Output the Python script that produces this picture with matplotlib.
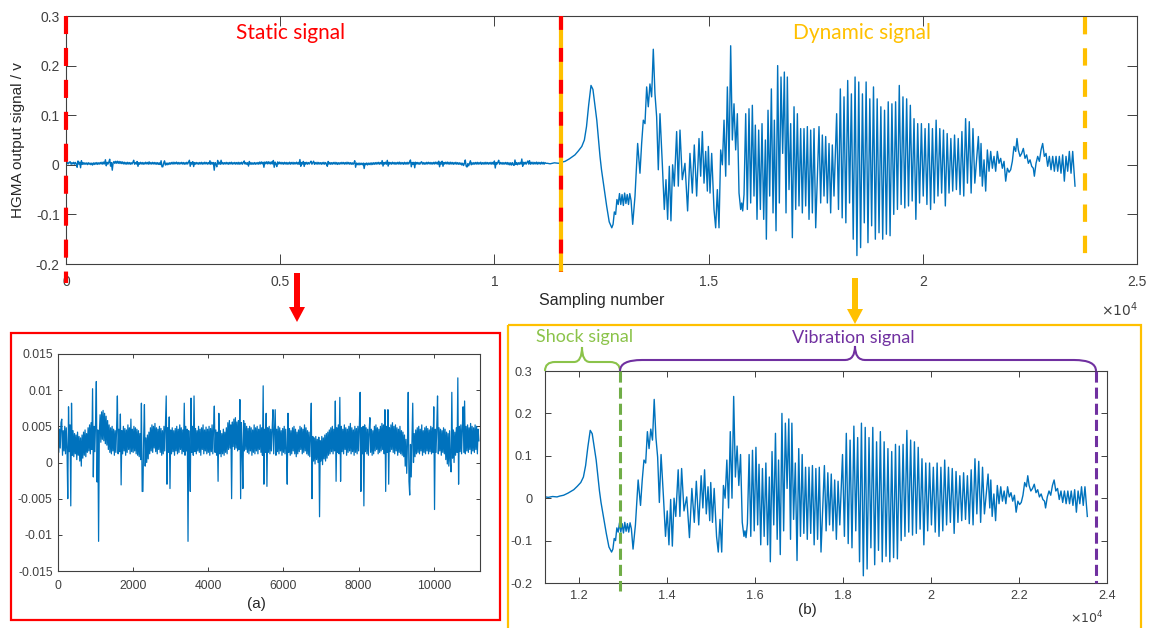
import numpy as np
import matplotlib
matplotlib.use("Agg")
import matplotlib.pyplot as plt
from matplotlib.path import Path
from matplotlib.patches import PathPatch, Rectangle, FancyArrow

plt.rcParams['lines.scale_dashes'] = False

# ---------------- data ----------------
# static signal, one value every 20 samples, in units of 1e-4 V
static_step = 20
static_e4 = [
    50, 14, 46, 20, 55, 60, 10, 44, 16, 50, 12, 48, 18, -50, 77, 15, 52, -60, 82, 10,
    44, 8, 40, 12, 38, 4, 42, 10, 36, 2, 34, -5, 38, 6, 42, 10, 45, 8, 40, 14,
    48, 16, 52, 12, 55, 18, 102, -20, 50, 15, 56, 112, -27, 45, -109, 40, 66, 28, 70, 32,
    72, 30, 68, 26, 64, 24, 58, 18, 52, 14, 48, 12, 50, 16, 46, 10, 44, 14, 48, 92,
    12, 46, 15, 67, -31, 44, 12, 50, 16, 47, 10, 45, 14, 52, 18, 48, 12, 60, 15, 46,
    14, 50, 16, 48, 12, 46, 10, 44, 8, 40, 4, 82, -40, -40, 36, 80, -5, 34, 0, 38,
    5, 42, 12, 48, 16, 52, 14, 50, 20, 54, 15, 48, 12, 46, 18, 50, 14, 47, 10, 44,
    12, 50, 16, 52, 92, -30, 48, 14, 63, -36, 45, 12, 48, 15, 44, 10, 47, 16, 50, 12,
    46, 14, 52, 18, 48, 12, 45, 15, 82, 10, 50, 16, 46, -109, 44, 12, -40, 89, 14, 50,
    10, 92, 15, 47, 12, 44, 16, 50, 14, 46, 10, 48, 18, 52, 12, 45, 16, 49, 12, 46,
    14, 50, 10, 47, 15, 52, 12, 48, 78, 14, 45, 10, 42, -26, 68, 12, 44, 8, 40, 12,
    46, 10, 42, 14, 48, 12, 55, 18, 58, 20, 52, -50, 56, 22, 60, 18, 62, 20, 56, 16,
    58, 18, 87, -50, 55, 20, -36, 58, 16, 54, 18, 50, 14, 47, 12, 50, 16, 48, 10, 45,
    14, 52, 12, 48, 16, 50, 12, 46, 18, 52, 14, 48, 10, 106, -30, 46, 14, 68, -33, 48,
    14, 50, 12, 46, 16, 48, 73, 12, 44, 73, 10, 46, 15, 50, 12, 48, 16, 44, 10, 47,
    14, 50, 12, 46, 16, -30, 68, 14, 47, 10, 44, 12, 48, 16, 50, 12, 46, 8, 42, 12,
    45, 15, 50, 18, 48, 12, 46, 14, 52, 16, 48, 12, 44, 10, 42, 8, 38, 82, -50, 36,
    2, 34, -2, 36, 4, 32, 0, 35, -75, 30, 2, 36, -3, 34, 5, 38, 2, 40, 6, 42,
    10, 45, 12, 48, 15, 50, 12, 46, 16, 85, -26, 48, 14, 52, 12, 90, -26, 50, 15, 46,
    12, 52, 18, 48, 10, 46, 14, 50, 16, 54, 12, 48, 15, 45, 10, 50, 14, 47, 12, 50,
    16, 52, 97, -40, 48, 12, 50, -60, 52, 15, 48, 12, 46, 10, 44, 62, 14, 46, 10, 44,
    12, 50, 16, 52, 18, 48, 12, 46, 14, 50, 16, 54, 18, 52, 12, 73, -40, 50, 14, 73,
    -30, 48, 15, 52, 18, 55, 14, 50, 12, 52, 16, 48, 10, 46, 14, 50, 12, 44, 10, 42,
    8, 38, -5, 32, -15, 28, 97, -26, -45, 25, -20, 30, 82, 0, 40, 8, 45, 12, 48, 14,
    50, 12, 46, 16, 52, 10, 44, 14, 48, 12, 50, 16, 47, 12, 45, 15, 50, 12, 48, 14,
    77, -65, 46, 14, 50, 92, 12, 48, 16, 46, 10, 44, 14, 48, 12, 46, 4, 42, -2, 40,
    -5, 44, 2, -13, 97, 6, 45, 0, 42, 10, 48, 14, 117, -30, 50, 15, 52, 12, 48, 77,
    14, 85, 12, 50, 16, 52, 14, 48, 18, 54, 12, 50, 16, 48, 14, 52, 18, 50, 12, 46,
    30,
]

# dynamic signal (sample number, volts)
shock_pts = [
    (11240, 0.003), (11300, 0.002), (11400, 0.004), (11500, 0.003), (11560, 0.005),
    (11650, 0.007), (11750, 0.012), (11880, 0.020), (11960, 0.028), (12040, 0.037),
    (12100, 0.050), (12150, 0.077), (12200, 0.120), (12255, 0.160), (12300, 0.152),
    (12340, 0.125), (12390, 0.090), (12430, 0.050), (12465, 0.017), (12500, -0.010),
    (12545, -0.037), (12620, -0.083), (12680, -0.115), (12740, -0.127), (12770, -0.120),
    (12800, -0.095), (12830, -0.100), (12860, -0.070), (12890, -0.080), (12920, -0.058),
    (12950, -0.080), (12980, -0.060), (13010, -0.082), (13040, -0.057), (13070, -0.078),
    (13100, -0.060), (13130, -0.080), (13160, -0.058), (13190, -0.072), (13228, -0.120),
    (13282, -0.063),
]
early_vib_pts = [
    (13344, 0.043), (13398, -0.017), (13437, 0.043), (13476, 0.090), (13515, 0.083),
    (13554, 0.157), (13592, 0.117), (13631, 0.163), (13670, 0.137), (13709, 0.233),
    (13748, 0.143), (13787, 0.097), (13826, -0.010), (13865, 0.103), (13919, 0.003),
    (13966, -0.090), (14005, -0.030), (14044, -0.110), (14083, -0.003), (14121, -0.113),
    (14160, 0.000), (14199, -0.043), (14254, 0.067), (14293, -0.043), (14332, 0.070),
    (14386, -0.030), (14448, 0.003), (14510, -0.093), (14565, 0.023), (14620, -0.057),
    (14666, 0.040), (14721, -0.063), (14776, 0.053), (14815, -0.023), (14854, 0.067),
    (14893, -0.037), (14932, 0.027), (14971, -0.053), (14994, 0.037), (15033, -0.057),
    (15072, 0.023), (15126, -0.090), (15165, -0.127), (15204, -0.050), (15243, -0.127),
    (15282, 0.030), (15321, 0.000), (15360, 0.090), (15399, -0.023), (15438, 0.157),
    (15477, 0.000), (15515, 0.240), (15554, 0.050), (15593, 0.123), (15632, 0.030),
    (15671, 0.103), (15710, -0.057), (15749, -0.090), (15772, -0.077), (15796, -0.093),
    (15827, -0.060), (15866, 0.103), (15904, -0.090), (15943, 0.113), (15982, -0.077),
    (16021, 0.120), (16060, -0.063), (16091, 0.080), (16130, -0.110), (16169, 0.070),
    (16208, -0.090), (16247, 0.083), (16286, -0.110), (16325, 0.050), (16348, -0.150),
    (16387, 0.110), (16426, -0.063), (16465, 0.153), (16504, -0.097), (16535, 0.090),
    (16574, -0.133), (16612, 0.200), (16651, -0.077), (16690, 0.177), (16729, 0.023),
    (16768, 0.187), (16807, -0.097), (16838, 0.177), (16877, -0.050), (16916, 0.083),
    (16955, -0.147), (16994, 0.117), (17033, -0.090), (17072, 0.103), (17110, -0.083),
    (17149, 0.073), (17188, -0.097), (17227, 0.073), (17266, -0.083), (17305, 0.077),
    (17344, -0.110), (17383, 0.070), (17422, -0.097), (17461, 0.073), (17500, -0.127),
    (17577, 0.077), (17616, -0.077), (17655, 0.060), (17694, -0.063), (17733, 0.057),
    (17772, -0.077), (17811, 0.043), (17849, -0.097), (17888, 0.040), (17927, -0.063),
]
burst_pts = [
    (17989, 0.103), (18032, -0.090), (18075, 0.153), (18118, -0.107), (18161, 0.137),
    (18204, -0.117), (18247, 0.170), (18290, -0.077), (18333, 0.143), (18376, -0.150),
    (18419, 0.177), (18462, -0.183), (18505, 0.167), (18548, -0.167), (18591, 0.143),
    (18634, -0.117), (18677, 0.167), (18720, -0.157), (18763, 0.133), (18806, -0.123),
    (18849, 0.157), (18892, -0.150), (18935, 0.133), (18978, -0.137), (19021, 0.117),
    (19064, -0.150), (19107, 0.110), (19150, -0.140), (19193, 0.127), (19236, -0.143),
    (19279, 0.123), (19322, -0.100), (19365, 0.127), (19408, -0.090), (19451, 0.160),
    (19494, -0.080), (19537, 0.137), (19580, -0.087), (19623, 0.133), (19666, -0.083),
    (19709, 0.120), (19752, -0.073), (19795, 0.093), (19838, -0.110), (19881, 0.083),
    (19924, -0.077), (19967, 0.083), (20010, -0.063), (20053, 0.073), (20096, -0.080),
    (20139, 0.083), (20182, -0.090), (20225, 0.073), (20268, -0.077), (20311, 0.090),
    (20354, -0.063), (20397, 0.073), (20440, -0.057), (20483, 0.070), (20526, -0.083),
    (20569, 0.063), (20612, -0.057), (20655, 0.053), (20698, -0.053), (20741, 0.060),
    (20784, -0.050), (20827, 0.053), (20870, -0.060), (20913, 0.067), (20956, -0.063),
    (20999, 0.093), (21042, -0.037), (21085, 0.087), (21128, -0.057), (21171, 0.073),
    (21214, -0.037),
]
tail_pts = [
    (21297, 0.057), (21336, -0.023), (21359, 0.043), (21390, -0.043), (21429, 0.010),
    (21468, -0.053), (21507, 0.030), (21546, -0.013), (21585, 0.027), (21624, -0.007),
    (21662, 0.017), (21701, -0.013), (21740, 0.027), (21779, 0.003), (21818, 0.013),
    (21857, -0.007), (21896, 0.007), (21935, -0.033), (21974, -0.007), (22013, -0.015),
    (22051, -0.010), (22090, 0.007), (22129, 0.037), (22168, 0.027), (22199, 0.053),
    (22230, 0.030), (22269, 0.017), (22308, 0.023), (22347, 0.033), (22386, 0.013),
    (22425, 0.020), (22464, 0.003), (22503, 0.010), (22542, -0.003), (22580, -0.007),
    (22604, -0.023), (22643, 0.003), (22682, 0.017), (22721, 0.007), (22760, 0.030),
    (22798, 0.043), (22837, 0.017), (22876, 0.023), (22915, -0.003), (22954, 0.017),
    (22993, -0.010), (23032, 0.017), (23071, -0.013), (23110, 0.017), (23149, -0.013),
    (23187, 0.017), (23226, -0.017), (23265, 0.020), (23304, -0.033), (23343, 0.017),
    (23382, -0.013), (23421, 0.027), (23460, -0.017), (23499, 0.027), (23530, -0.013),
    (23553, -0.043),
]

# region boundaries (sample number)
static_start = 0
dynamic_start = 11555
dynamic_end = 23790
shock_end = 12940
vibration_end = 23750

# tick labels
top_xticks = [0, 5000, 10000, 15000, 20000, 25000]
top_xlabels = ["0", "0.5", "1", "1.5", "2", "2.5"]
sig_yticks = [-0.2, -0.1, 0, 0.1, 0.2, 0.3]
sig_ylabels = ["-0.2", "-0.1", "0", "0.1", "0.2", "0.3"]
a_xticks = [0, 2000, 4000, 6000, 8000, 10000]
a_yticks = [-0.015, -0.01, -0.005, 0, 0.005, 0.01, 0.015]
a_ylabels = ["-0.015", "-0.01", "-0.005", "0", "0.005", "0.01", "0.015"]
b_xticks = [12000, 14000, 16000, 18000, 20000, 22000, 24000]
b_xlabels = ["1.2", "1.4", "1.6", "1.8", "2", "2.2", "2.4"]

# ---------------- assemble series ----------------
static_x = np.arange(len(static_e4)) * static_step
static_y = np.array(static_e4) * 1e-4
dyn = shock_pts + early_vib_pts + burst_pts + tail_pts
dyn_x = np.array([p[0] for p in dyn])
dyn_y = np.array([p[1] for p in dyn])
all_x = np.concatenate([static_x, dyn_x])
all_y = np.concatenate([static_y, dyn_y])

# ---------------- figure ----------------
W, H = 1152, 628
fig = plt.figure(figsize=(W / 100, H / 100), dpi=100)
fig.patch.set_facecolor("white")

LINE = "#0072BD"
AXC = "#404040"
RED = "#FF0000"
ORANGE = "#FFC000"
GREEN_T = "#8BC34A"
GREEN_D = "#70AD47"
PURPLE = "#7030A0"
MFONT = "Liberation Sans"
CFONT = "Lato"


def px_axes(l, t, r, b):
    return fig.add_axes([l / W, 1 - b / H, (r - l) / W, (b - t) / H])


def style(ax, size, length, xpad, ypad):
    for s in ax.spines.values():
        s.set_color(AXC)
        s.set_linewidth(0.8)
    ax.tick_params(direction="in", top=True, right=True, length=length, width=0.7,
                   colors=AXC, labelsize=size)
    ax.tick_params(axis="x", pad=xpad)
    ax.tick_params(axis="y", pad=ypad)
    for lab in ax.get_xticklabels() + ax.get_yticklabels():
        lab.set_fontfamily(MFONT)


# ---- top overview ----
ax = px_axes(66, 16, 1137, 264)
ax.plot(all_x, all_y, color=LINE, lw=1.0)
ax.set_xlim(0, 25000)
ax.set_ylim(-0.2, 0.3)
ax.set_xticks(top_xticks, top_xlabels)
ax.set_yticks(sig_yticks, sig_ylabels)
style(ax, 10, 7.5, 8, 4.5)
ax.plot([static_start, static_start], [0.3, -0.238], color=RED, lw=3,
        ls=(0, (13, 10)), clip_on=False, solid_capstyle="butt", zorder=5)
ax.plot([dynamic_start, dynamic_start], [0.3, -0.216], color=ORANGE, lw=3,
        clip_on=False, solid_capstyle="butt", zorder=5)
ax.plot([dynamic_start, dynamic_start], [0.3, -0.216], color=RED, lw=3,
        ls=(0, (10, 13)), clip_on=False, zorder=6)
ax.plot([dynamic_end, dynamic_end], [0.298, -0.188], color=ORANGE, lw=3,
        ls=(0, (12.5, 10)), clip_on=False, zorder=5)

# ---- panel (a) ----
axa = px_axes(58, 354, 480, 571)
axa.plot(static_x, static_y, color=LINE, lw=0.9)
axa.set_xlim(0, 11230)
axa.set_ylim(-0.015, 0.015)
axa.set_xticks(a_xticks, [str(v) for v in a_xticks])
axa.set_yticks(a_yticks, a_ylabels)
style(axa, 8.7, 3.2, 6.5, 3.8)

# ---- panel (b) ----
axb = px_axes(545, 371, 1107, 583)
axb.plot(dyn_x, dyn_y, color=LINE, lw=1.0)
axb.set_xlim(11227, 24000)
axb.set_ylim(-0.2, 0.3)
axb.set_xticks(b_xticks, b_xlabels)
axb.set_yticks(sig_yticks, sig_ylabels)
style(axb, 9.2, 4.0, 5, 9)
axb.plot([shock_end, shock_end], [0.3, -0.219], color=GREEN_D, lw=2.2,
         ls=(0, (8, 3.6)), clip_on=False, zorder=5)
axb.plot([vibration_end, vibration_end], [0.3, -0.2], color=PURPLE, lw=2.2,
         ls=(0, (8, 3.6)), clip_on=False, zorder=5)

# ---- overlay for annotations (pixel coordinates) ----
ov = fig.add_axes([0, 0, 1, 1], zorder=10)
ov.set_xlim(0, W)
ov.set_ylim(H, 0)
ov.axis("off")

ov.text(18, 140, "HGMA output signal / v", rotation=90, ha="center", va="center",
        fontsize=11, color="#262626", family=MFONT)
ov.text(602, 300, "Sampling number", ha="center", va="center", fontsize=11.5,
        color="#262626", family=MFONT)
ov.text(1138, 310, r"$\times10^{4}$", ha="right", va="center", fontsize=10,
        color=AXC, family=MFONT)
ov.text(291, 33, "Static signal", ha="center", va="center", fontsize=15,
        color=RED, family=CFONT)
ov.text(862, 33, "Dynamic signal", ha="center", va="center", fontsize=15,
        color=ORANGE, family=CFONT)

ov.add_patch(FancyArrow(297, 273, 0, 49, width=6, head_width=16, head_length=15,
                        length_includes_head=True, color=RED, lw=0))
ov.add_patch(FancyArrow(855, 278, 0, 46, width=6, head_width=16, head_length=15,
                        length_includes_head=True, color=ORANGE, lw=0))

ov.add_patch(Rectangle((11, 333), 489, 287, fill=False, ec=RED, lw=1.6))
ov.add_patch(Rectangle((508, 325), 633, 330, fill=False, ec=ORANGE, lw=1.6))

ov.text(256, 604, "(a)", ha="center", va="center", fontsize=11, color="#262626",
        family=MFONT)
ov.text(807, 610, "(b)", ha="center", va="center", fontsize=11, color="#262626",
        family=MFONT)
ov.text(1103, 618, r"$\times10^{4}$", ha="right", va="center", fontsize=9,
        color=AXC, family=MFONT)


def brace(x0, x1, xc, yb, ym, yt, r_end, r_tip, color):
    verts = [(x0, yb), (x0, ym), (x0 + r_end, ym),
             (xc - r_tip, ym), (xc, ym), (xc, yt),
             (xc, ym), (xc + r_tip, ym),
             (x1 - r_end, ym), (x1, ym), (x1, yb)]
    codes = [Path.MOVETO, Path.CURVE3, Path.CURVE3,
             Path.LINETO, Path.CURVE3, Path.CURVE3,
             Path.CURVE3, Path.CURVE3,
             Path.LINETO, Path.CURVE3, Path.CURVE3]
    ov.add_patch(PathPatch(Path(verts, codes), fill=False, ec=color, lw=1.5))


brace(545, 620, 582, 371, 362, 347, 10, 8, GREEN_T)
brace(620, 1096, 855, 371, 360, 346, 22, 10, PURPLE)
ov.text(585, 337, "Shock signal", ha="center", va="center", fontsize=13,
        color=GREEN_T, family=CFONT)
ov.text(853, 338, "Vibration signal", ha="center", va="center", fontsize=13,
        color=PURPLE, family=CFONT)

fig.savefig("out.png", dpi=100)
